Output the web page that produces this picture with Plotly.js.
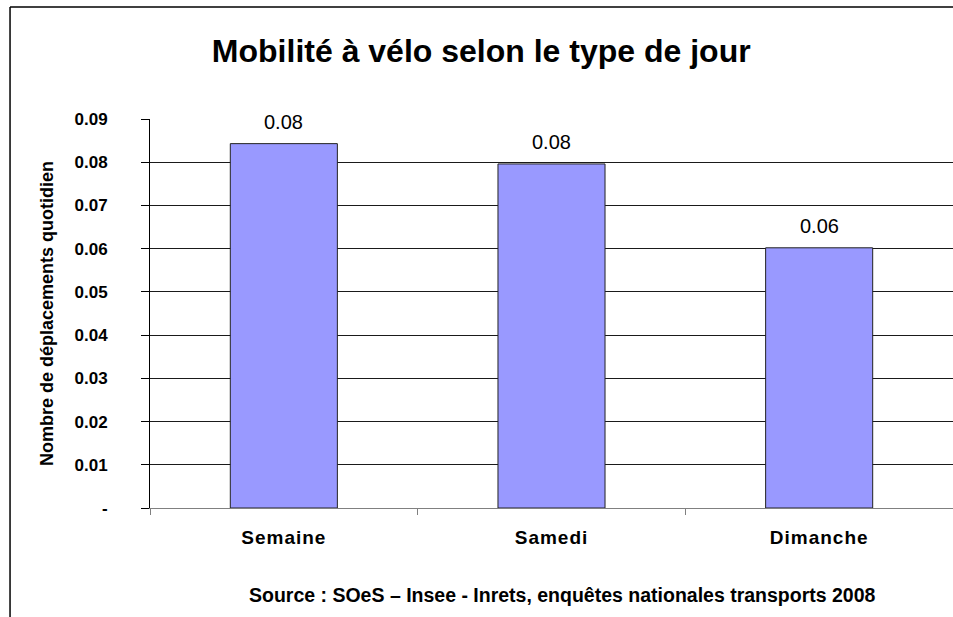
<!DOCTYPE html>
<html>
<head>
<meta charset="utf-8">
<script src="https://cdn.plot.ly/plotly-3.0.1.min.js"></script>
<style>
html, body { margin: 0; padding: 0; background: #fff; overflow: hidden; }
#chart { width: 953px; height: 617px; }
.xtick text { letter-spacing: 1px; }
</style>
</head>
<body>
<div id="chart"></div>
<script>
// ---- data ----
const categories = ["Semaine", "Samedi", "Dimanche"];
const values = [0.0843, 0.0796, 0.0602];
const yTickVals = [0, 0.01, 0.02, 0.03, 0.04, 0.05, 0.06, 0.07, 0.08, 0.09];
const yTickText = ["-", "0.01", "0.02", "0.03", "0.04", "0.05", "0.06", "0.07", "0.08", "0.09"];
const titleText = "Mobilité à vélo selon le type de jour";
const yTitleText = "Nombre de déplacements quotidien";
const sourceText = "Source : SOeS – Insee - Inrets, enquêtes nationales transports 2008";

const FONT = '"Liberation Sans", Arial, sans-serif';

const trace = {
  type: 'bar',
  x: categories,
  y: values,
  marker: { color: '#9999FF', line: { color: '#222222', width: 1 } },
  hoverinfo: 'x+y'
};

const valueLabels = categories.map((c, i) => ({
  x: c, y: values[i], xref: 'x', yref: 'y',
  text: values[i].toFixed(2),
  showarrow: false, yanchor: 'bottom', yshift: 9,
  font: { family: FONT, size: 20, color: '#000' }
}));

const layout = {
  width: 953, height: 617,
  margin: { l: 150, r: 0, t: 119, b: 109 },
  paper_bgcolor: '#fff', plot_bgcolor: '#fff',
  showlegend: false,
  bargap: 0.6,
  font: { family: FONT, color: '#000' },
  title: {
    text: '<b>' + titleText + '</b>',
    font: { family: FONT, size: 32, color: '#000' },
    xref: 'container', yref: 'container',
    x: 0.505, xanchor: 'center', y: 0.918, yanchor: 'middle'
  },
  xaxis: {
    type: 'category',
    range: [-0.5, 2.5],
    showgrid: false, zeroline: false,
    showline: true, linecolor: '#808080', linewidth: 1,
    ticks: 'outside', tickson: 'boundaries', ticklen: 6, tickcolor: '#808080',
    tickfont: { family: FONT, size: 19, color: '#000', weight: 'bold' },
    ticklabelstandoff: 12
  },
  yaxis: {
    range: [0, 0.09],
    tickmode: 'array', tickvals: yTickVals, ticktext: yTickText,
    showgrid: true, gridcolor: '#1a1a1a', gridwidth: 1,
    zeroline: false,
    showline: true, linecolor: '#000', linewidth: 1,
    ticks: 'outside', ticklen: 8, tickcolor: '#000',
    tickfont: { family: FONT, size: 17, color: '#000', weight: 'bold' },
    ticklabelstandoff: 30,
    title: {
      text: '<b>' + yTitleText + '</b>',
      font: { family: FONT, size: 18, color: '#000' },
      standoff: 16
    }
  },
  annotations: valueLabels.concat([{
    text: '<b>' + sourceText + '</b>',
    xref: 'paper', yref: 'paper', x: 0.5137, y: -0.2224,
    xanchor: 'center', yanchor: 'middle', showarrow: false,
    font: { family: FONT, size: 19.5, color: '#000' }
  }]),
  shapes: [
    { type: 'line', xref: 'paper', yref: 'paper', x0: -0.1743, x1: -0.1743, y0: -0.35, y1: 1.2879,
      line: { color: '#000', width: 1.5 } },
    { type: 'line', xref: 'paper', yref: 'paper', x0: -0.1743, x1: 1.0, y0: 1.2879, y1: 1.2879,
      line: { color: '#000', width: 1.5 } }
  ]
};

Plotly.newPlot('chart', [trace], layout, { displayModeBar: false, staticPlot: true });
</script>
</body>
</html>
